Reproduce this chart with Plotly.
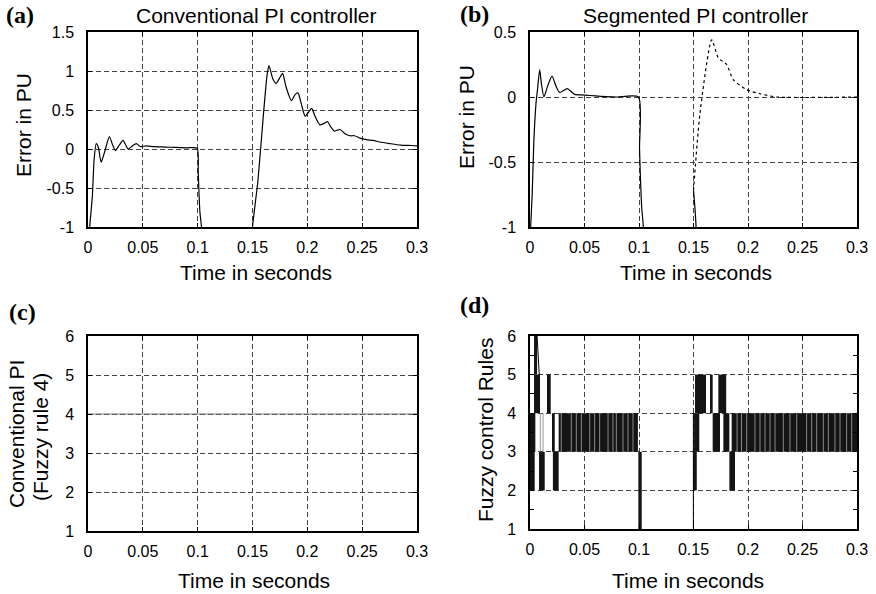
import plotly.graph_objects as go

# ---------------- data ----------------
# (a) Conventional PI controller error
t_a = [0.0, 0.0015, 0.004, 0.0055, 0.0075, 0.0095, 0.012, 0.0155, 0.0195, 0.0225,
       0.025, 0.0285, 0.032, 0.0365, 0.0405, 0.044, 0.048, 0.053, 0.06, 0.07,
       0.08, 0.09, 0.0995, 0.1005, 0.102, 0.1035, 0.105, 0.149, 0.15, 0.155,
       0.16, 0.1633, 0.165, 0.1685, 0.1715, 0.1755, 0.1775, 0.1805, 0.1855, 0.189,
       0.1915, 0.1945, 0.198, 0.2015, 0.204, 0.207, 0.2115, 0.2155, 0.2185, 0.2215,
       0.2245, 0.227, 0.23, 0.234, 0.239, 0.243, 0.248, 0.254, 0.26, 0.266,
       0.275, 0.285, 0.295, 0.3]
e_a = [-1.3, -1.0, -0.6, -0.15, 0.07, 0.02, -0.17, -0.02, 0.16, 0.05,
       -0.02, 0.05, 0.11, 0.0, 0.04, 0.07, 0.03, 0.04, 0.03, 0.025,
       0.02, 0.015, 0.01, -0.3, -0.8, -1.0, -1.3, -1.3, -1.0, -0.4,
       0.45, 0.95, 1.07, 0.9, 0.84, 0.93, 0.97, 0.8, 0.62, 0.7,
       0.72, 0.58, 0.42, 0.48, 0.52, 0.42, 0.31, 0.33, 0.35, 0.28,
       0.23, 0.24, 0.25, 0.2, 0.17, 0.17, 0.14, 0.12, 0.11, 0.09,
       0.07, 0.05, 0.045, 0.04]

# (b) Segmented PI controller error (solid part, then dotted part)
t_b1 = [0.0, 0.0006, 0.002, 0.0035, 0.0055, 0.0068, 0.0089, 0.0105, 0.0128, 0.016,
        0.0202, 0.024, 0.0272, 0.0342, 0.038, 0.041, 0.05, 0.06, 0.07, 0.08,
        0.0995, 0.1005, 0.1025, 0.104, 0.105, 0.1495, 0.15]
e_b1 = [-1.3, -1.0, -0.75, -0.35, -0.05, 0.05, 0.21, 0.1, 0.0, 0.08,
        0.16, 0.08, 0.035, 0.065, 0.04, 0.02, 0.015, 0.008, 0.003, 0.0,
        0.0, -0.4, -0.85, -1.0, -1.3, -1.3, -0.72]
t_b2 = [0.15, 0.156, 0.1667, 0.1728, 0.1804, 0.1865, 0.1988, 0.211, 0.226, 0.3]
e_b2 = [-0.72, -0.12, 0.44, 0.3, 0.25, 0.133, 0.056, 0.025, 0.0, 0.0]

# (c) Conventional PI -> constant fuzzy rule 4
t_c = [0.0, 0.3]
r_c = [4, 4]

# (d) Fuzzy control rules: filled switching blocks (start, end, low rule, high rule)
blk_t0 = [0.0, 0.0, 0.0037, 0.0037, 0.0083, 0.0156, 0.021, 0.0202, 0.0263, 0.0994,
          0.15, 0.1505, 0.1514, 0.1658, 0.1676, 0.1728, 0.1774, 0.1829, 0.185]
blk_t1 = [0.0043, 0.0049, 0.0065, 0.0092, 0.0135, 0.019, 0.0263, 0.0227, 0.099, 0.1025,
          0.153, 0.1553, 0.1615, 0.1676, 0.1743, 0.18, 0.1829, 0.1881, 0.3]
blk_lo = [2, 3, 5, 4, 2, 4, 2, 3, 3, 1,
          2, 3, 4, 4, 3, 4, 3, 2, 3]
blk_hi = [3, 4, 6, 5, 3, 5, 3, 4, 4, 3,
          3, 4, 5, 5, 4, 5, 4, 3, 4]
# light stripes inside the dense 3-4 switching bands
stripe_t = [0.0287, 0.0379, 0.0425, 0.0471, 0.0548, 0.0593, 0.0639, 0.0716, 0.0761, 0.0792,
            0.0853, 0.0899, 0.0945, 0.19, 0.194, 0.1988, 0.2064, 0.211, 0.2156, 0.2202,
            0.2248, 0.2324, 0.2385, 0.2447, 0.2538, 0.2584, 0.263, 0.2691, 0.2737, 0.2798,
            0.2844, 0.2905, 0.2951]
# single transitions drawn as thin lines (time, from rule, to rule)
edge_t = [0.0065, 0.0095, 0.012, 0.1499]
edge_r0 = [6, 4, 4, 4]
edge_r1 = [5, 3, 3, 1]
edge_gray = [False, True, True, False]

x_ticks = [0, 0.05, 0.1, 0.15, 0.2, 0.25, 0.3]
x_ticklabels = ["0", "0.05", "0.1", "0.15", "0.2", "0.25", "0.3"]

# ---------------- figure ----------------
W, H = 876, 594
def px_x(p):
    return p / W
def px_y(p):
    return 1 - p / H

dom = {
    "a": ([88, 417], [32, 227]),
    "b": ([530, 857], [32, 227]),
    "c": ([88, 417], [336, 531]),
    "d": ([530, 857], [336, 529]),
}

fig = go.Figure()
line_black = dict(color="black", width=1.2, shape="spline", smoothing=0.6)

fig.add_trace(go.Scatter(x=t_a, y=e_a, mode="lines", line=line_black,
                         xaxis="x", yaxis="y", showlegend=False))
fig.add_trace(go.Scatter(x=t_b1, y=e_b1, mode="lines", line=line_black,
                         xaxis="x2", yaxis="y2", showlegend=False))
fig.add_trace(go.Scatter(x=t_b2, y=e_b2, mode="lines",
                         line=dict(color="black", width=1.2, dash="dot", shape="spline", smoothing=0.6),
                         xaxis="x2", yaxis="y2", showlegend=False))
fig.add_trace(go.Scatter(x=t_c, y=r_c, mode="lines", line=dict(color="#777", width=1.2),
                         xaxis="x3", yaxis="y3", showlegend=False))

# (d) blocks as bars with base
centers = [(a + b) / 2 for a, b in zip(blk_t0, blk_t1)]
widths = [b - a for a, b in zip(blk_t0, blk_t1)]
heights = [h - l for l, h in zip(blk_lo, blk_hi)]
fig.add_trace(go.Bar(x=centers, y=heights, base=blk_lo, width=widths,
                     marker=dict(color="#141414", line=dict(width=0)),
                     xaxis="x4", yaxis="y4", showlegend=False))
sx, sy = [], []
for t in stripe_t:
    sx += [t, t, None]
    sy += [3, 4, None]
fig.add_trace(go.Scatter(x=sx, y=sy, mode="lines", line=dict(color="#8a8a8a", width=1),
                         xaxis="x4", yaxis="y4", showlegend=False))
for t, r0, r1, g in zip(edge_t, edge_r0, edge_r1, edge_gray):
    x_pts = [t, t] if r0 - r1 != 1 or g else [t, t + 0.002]
    fig.add_trace(go.Scatter(x=x_pts, y=[r0, r1], mode="lines",
                             line=dict(color="#999" if g else "black", width=1),
                             xaxis="x4", yaxis="y4", showlegend=False))

tickfont = dict(family="Liberation Sans, Arial, sans-serif", size=16, color="black")
grid = dict(showgrid=True, gridcolor="#444", gridwidth=1, griddash="5px,3px",
            showline=True, linecolor="black", linewidth=1.5, mirror="ticks",
            ticks="inside", ticklen=4, tickcolor="black", zeroline=False,
            tickfont=tickfont, automargin=False)

layout = dict(width=W, height=H, margin=dict(l=0, r=0, t=0, b=0, pad=0),
              plot_bgcolor="white", paper_bgcolor="white", barmode="overlay",
              showlegend=False)

yspecs = {
    "a": dict(range=[-1, 1.5], tickvals=[-1, -0.5, 0, 0.5, 1, 1.5],
              ticktext=["-1", "-0.5", "0", "0.5", "1", "1.5"]),
    "b": dict(range=[-1, 0.5], tickvals=[-1, -0.5, 0, 0.5],
              ticktext=["-1", "-0.5", "0", "0.5"]),
    "c": dict(range=[1, 6], tickvals=[1, 2, 3, 4, 5, 6]),
    "d": dict(range=[1, 6], tickvals=[1, 2, 3, 4, 5, 6],
              minor=dict(dtick=0.5, ticks="inside", ticklen=4, tickcolor="black", showgrid=False)),
}
names = ["a", "b", "c", "d"]
for i, k in enumerate(names):
    sfx = "" if i == 0 else str(i + 1)
    xd, yd = dom[k]
    layout["xaxis" + sfx] = dict(grid, domain=[px_x(xd[0]), px_x(xd[1])], range=[0, 0.3],
                                 tickvals=x_ticks, ticktext=x_ticklabels,
                                 anchor="y" + sfx, ticklabelstandoff=5)
    layout["yaxis" + sfx] = dict(grid, domain=[px_y(yd[1]), px_y(yd[0])],
                                 anchor="x" + sfx, ticklabelstandoff=9, **yspecs[k])

fig.update_layout(**layout)

title_font = dict(family="Liberation Sans, Arial, sans-serif", size=21, color="black")
label_font = dict(family="Liberation Serif, Times New Roman, serif", size=24, color="black")
ann = []
# panel titles
ann.append(dict(text="Conventional PI controller", x=px_x(256), y=px_y(16)))
ann.append(dict(text="Segmented PI controller", x=px_x(695), y=px_y(16)))
# x axis titles
for xc, yc in [(256, 272), (696, 272), (254, 580), (688, 580)]:
    ann.append(dict(text="Time in seconds", x=px_x(xc), y=px_y(yc)))
# y axis titles
ann.append(dict(text="Error in PU", x=px_x(24), y=px_y(125), textangle=-90))
ann.append(dict(text="Error in PU", x=px_x(466), y=px_y(117), textangle=-90))
ann.append(dict(text="Conventional PI", x=px_x(16), y=px_y(434), textangle=-90))
ann.append(dict(text="(Fuzzy rule 4)", x=px_x(40), y=px_y(437), textangle=-90))
ann.append(dict(text="Fuzzy control Rules", x=px_x(485), y=px_y(430), textangle=-90))
annotations = []
for a in ann:
    a.update(xref="paper", yref="paper", showarrow=False, font=title_font,
             xanchor="center", yanchor="middle")
    annotations.append(a)
for txt, xc, yc in [("(a)", 20, 15), ("(b)", 474, 14), ("(c)", 22, 312), ("(d)", 474, 305)]:
    annotations.append(dict(text="<b>" + txt + "</b>", x=px_x(xc), y=px_y(yc),
                            xref="paper", yref="paper", showarrow=False, font=label_font,
                            xanchor="center", yanchor="middle"))
fig.update_layout(annotations=annotations)

fig.write_html("out.html", config={"displayModeBar": False},
               post_script="document.body.style.margin='0';document.body.style.padding='0';")
